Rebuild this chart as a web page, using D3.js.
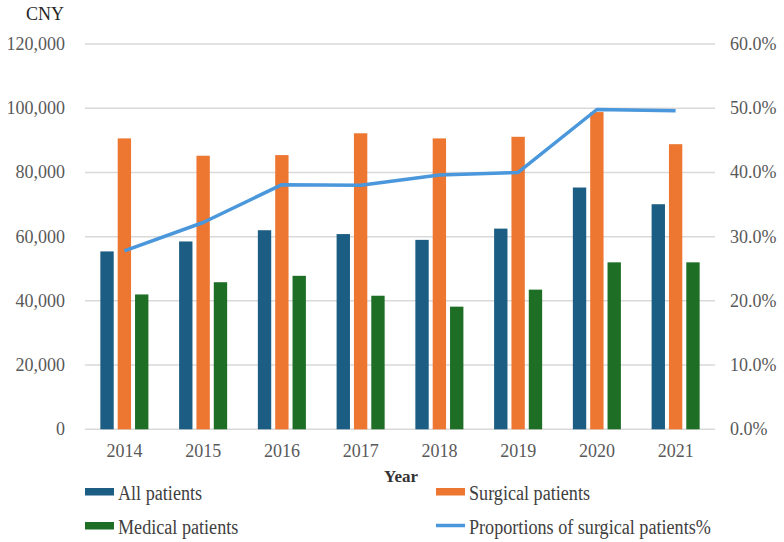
<!DOCTYPE html>
<html>
  <head>
    <meta charset="utf-8">
    <title>Patient costs by year</title>
    <style>
      body { margin: 0; background: #fff; }
      text { font-family: "Liberation Serif", "Times New Roman", serif; }
      .tick-lbl { font-size: 18px; fill: #595959; }
      .legend { font-size: 20.5px; fill: #404040; }
    </style>
  </head>
  <body>
    <div id="chart"></div>
    <script src="https://d3js.org/d3.v7.min.js"></script>
    <script>
    var years = ['2014', '2015', '2016', '2017', '2018', '2019', '2020', '2021'];
    var allPatients = [55400, 58500, 62000, 60800, 59000, 62500, 75300, 70100];
    var surgicalPatients = [90600, 85200, 85400, 92200, 90600, 91100, 98800, 88800];
    var medicalPatients = [42000, 45800, 47800, 41600, 38200, 43500, 52000, 52000];
    var surgicalShare = [27.8, 32.2, 38.1, 38.0, 39.6, 40.0, 49.8, 49.6];
    var leftTicks = [0, 20000, 40000, 60000, 80000, 100000, 120000];
    var rightTicks = [0, 10, 20, 30, 40, 50, 60];

    var seriesNames = ['All patients', 'Surgical patients', 'Medical patients'];
    var colors = ['#1b5d83', '#ed7731', '#1e6e26'];
    var lineColor = '#4a97dc';

    function drawChart() {
      var width = 784, height = 542;
      var plotLeft = 85, plotRight = 715, plotTop = 44, plotBottom = 429.3;

      var svg = d3.select('#chart')
        .append('svg')
        .attr('width', width)
        .attr('height', height);

      var x0 = d3.scaleBand()
        .domain(years)
        .range([plotLeft, plotRight])
        .paddingInner(0.39)
        .paddingOuter(0.195);

      var x1 = d3.scaleBand()
        .domain(seriesNames)
        .range([0, x0.bandwidth()])
        .paddingInner(0.23);

      var y = d3.scaleLinear().domain([0, 120000]).range([plotBottom, plotTop]);
      var y2 = d3.scaleLinear().domain([0, 60]).range([plotBottom, plotTop]);

      // gridlines
      svg.append('g')
        .selectAll('line')
        .data(leftTicks)
        .enter()
        .append('line')
        .attr('x1', plotLeft)
        .attr('x2', plotRight)
        .attr('y1', function(d) { return y(d); })
        .attr('y2', function(d) { return y(d); })
        .attr('stroke', '#d9d9d9')
        .attr('stroke-width', 1.5);

      // left axis labels
      svg.append('g')
        .selectAll('text')
        .data(leftTicks)
        .enter()
        .append('text')
        .attr('class', 'tick-lbl')
        .attr('x', 65)
        .attr('y', function(d) { return y(d); })
        .attr('dy', '0.33em')
        .attr('text-anchor', 'end')
        .text(function(d) { return d3.format(',')(d); });

      // right axis labels
      svg.append('g')
        .selectAll('text')
        .data(rightTicks)
        .enter()
        .append('text')
        .attr('class', 'tick-lbl')
        .attr('x', 730)
        .attr('y', function(d) { return y2(d); })
        .attr('dy', '0.33em')
        .text(function(d) { return d.toFixed(1) + '%'; });

      svg.append('text')
        .attr('x', 26)
        .attr('y', 20)
        .style('font-size', '18px')
        .style('fill', '#262626')
        .text('CNY');

      // bars
      var seriesData = [allPatients, surgicalPatients, medicalPatients];
      var groups = svg.append('g')
        .selectAll('g')
        .data(years)
        .enter()
        .append('g')
        .attr('transform', function(d) { return 'translate(' + x0(d) + ',0)'; });

      groups.selectAll('rect')
        .data(function(d, i) {
          return seriesNames.map(function(s, j) {
            return { name: s, value: seriesData[j][i], color: colors[j] };
          });
        })
        .enter()
        .append('rect')
        .attr('x', function(d) { return x1(d.name); })
        .attr('width', x1.bandwidth())
        .attr('y', function(d) { return y(d.value); })
        .attr('height', function(d) { return plotBottom - y(d.value); })
        .attr('fill', function(d) { return d.color; });

      // proportion line
      var line = d3.line()
        .x(function(d, i) { return x0(years[i]) + x0.bandwidth() / 2; })
        .y(function(d) { return y2(d); });

      svg.append('path')
        .datum(surgicalShare)
        .attr('d', line)
        .attr('fill', 'none')
        .attr('stroke', lineColor)
        .attr('stroke-width', 3.5)
        .attr('stroke-linejoin', 'round');

      // year labels
      svg.append('g')
        .selectAll('text')
        .data(years)
        .enter()
        .append('text')
        .attr('class', 'tick-lbl')
        .attr('x', function(d) { return x0(d) + x0.bandwidth() / 2; })
        .attr('y', 457)
        .attr('text-anchor', 'middle')
        .text(function(d) { return d; });

      svg.append('text')
        .attr('x', 401)
        .attr('y', 482)
        .attr('text-anchor', 'middle')
        .style('font-size', '17px')
        .style('font-weight', 'bold')
        .style('fill', '#333')
        .text('Year');

      // legend (text is a bit squeezed sideways, like the original)
      var legendItems = [
        { label: 'All patients', color: colors[0], type: 'rect', x: 85, y: 488 },
        { label: 'Surgical patients', color: colors[1], type: 'rect', x: 436, y: 488 },
        { label: 'Medical patients', color: colors[2], type: 'rect', x: 85, y: 522 },
        { label: 'Proportions of surgical patients%', color: lineColor, type: 'line', x: 436, y: 522 }
      ];
      var squeeze = 0.885;

      var legend = svg.append('g')
        .selectAll('g')
        .data(legendItems)
        .enter()
        .append('g')
        .attr('transform', function(d) { return 'translate(' + d.x + ',' + d.y + ')'; });

      legend.each(function(d) {
        var g = d3.select(this);
        if (d.type === 'rect') {
          g.append('rect')
            .attr('width', 29)
            .attr('height', 7.5)
            .attr('fill', d.color);
        } else {
          g.append('line')
            .attr('x1', 0).attr('x2', 29)
            .attr('y1', 3.5).attr('y2', 3.5)
            .attr('stroke', d.color)
            .attr('stroke-width', 3.5);
        }
        g.append('text')
          .attr('class', 'legend')
          .attr('transform', 'scale(' + squeeze + ',1)')
          .attr('x', 33 / squeeze)
          .attr('y', 11.5)
          .text(d.label);
      });
    }
    drawChart();
    </script>
  </body>
</html>
